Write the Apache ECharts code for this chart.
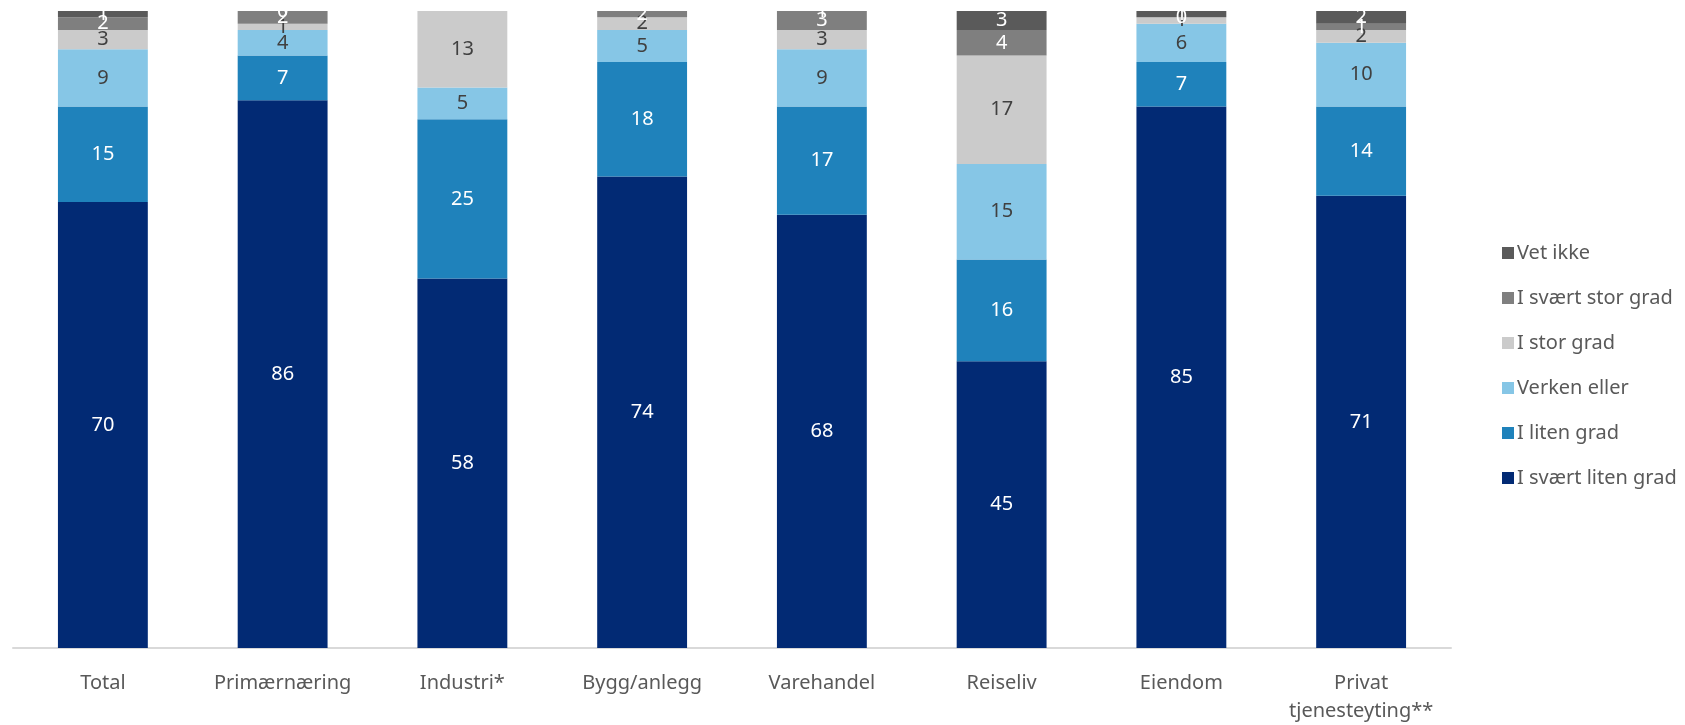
<!DOCTYPE html>
<html>
<head>
<meta charset="utf-8">
<script src="https://cdn.jsdelivr.net/npm/echarts@6/dist/echarts.min.js"></script>
<style>
  html, body { margin: 0; padding: 0; background: #ffffff; }
  #chart { width: 1685px; height: 725px; }
</style>
</head>
<body>
<div id="chart"></div>
<script>
// Sectors shown along the x axis
const categories = ['Total', 'Primærnæring', 'Industri*', 'Bygg/anlegg', 'Varehandel', 'Reiseliv', 'Eiendom', 'Privat\ntjenesteyting**'];

// Share of answers (percent) per sector, bottom to top of each stack
const sværtLitenGrad = [70, 86, 58, 74, 68, 45, 85, 71];
const litenGrad      = [15, 7, 25, 18, 17, 16, 7, 14];
const verkenEller    = [9, 4, 5, 5, 9, 15, 6, 10];
const storGrad       = [3, 1, 13, 2, 3, 17, 1, 2];
const sværtStorGrad  = [2, 2, 0, 2, 3, 4, 0, 1];
const vetIkke        = [1, 0, 0, 0, 1, 3, 1, 2];

const seriesDefs = [
  { name: 'I svært liten grad', data: sværtLitenGrad, color: '#022a74', label: '#ffffff' },
  { name: 'I liten grad',       data: litenGrad,      color: '#1f82bb', label: '#ffffff' },
  { name: 'Verken eller',       data: verkenEller,    color: '#86c6e6', label: '#404040' },
  { name: 'I stor grad',        data: storGrad,       color: '#cbcbcb', label: '#404040' },
  { name: 'I svært stor grad',  data: sværtStorGrad,  color: '#7f7f7f', label: '#ffffff' },
  { name: 'Vet ikke',           data: vetIkke,        color: '#5a5a5a', label: '#ffffff' }
];

const font = 'Noto Sans';

const chart = echarts.init(document.getElementById('chart'));
chart.setOption({
  animation: false,
  textStyle: { fontFamily: font },
  grid: { left: 13, right: 234, top: 11, bottom: 75, containLabel: false },
  legend: {
    orient: 'vertical',
    left: 1497,
    top: 237,
    itemWidth: 12,
    itemHeight: 12,
    itemGap: 23,
    icon: 'rect',
    data: seriesDefs.map(s => s.name).reverse(),
    textStyle: { color: '#595959', fontSize: 20, fontFamily: font, lineHeight: 22, padding: [0, 0, 0, -2] }
  },
  xAxis: {
    type: 'category',
    data: categories,
    axisLine: { lineStyle: { color: '#d9d9d9', width: 2 } },
    axisTick: { show: false },
    axisLabel: { color: '#595959', fontSize: 20, fontFamily: font, lineHeight: 28, margin: 21, interval: 0 }
  },
  yAxis: {
    type: 'value',
    min: 0,
    max: 100,
    show: false,
    splitLine: { show: false }
  },
  series: seriesDefs.map(s => ({
    name: s.name,
    type: 'bar',
    stack: 'total',
    barWidth: '50%',
    data: s.data,
    itemStyle: { color: s.color },
    label: {
      show: true,
      position: 'inside',
      color: s.label,
      fontSize: 20,
      fontFamily: font
    }
  }))
});
</script>
</body>
</html>
